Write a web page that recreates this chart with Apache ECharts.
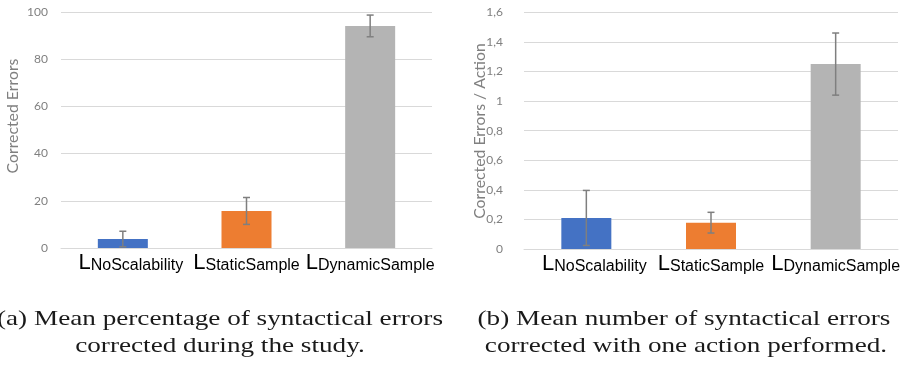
<!DOCTYPE html>
<html>
<head>
<meta charset="utf-8">
<script src="https://cdn.jsdelivr.net/npm/echarts@6/dist/echarts.min.js"></script>
<style>
html,body{margin:0;padding:0;background:#fff;}
#c{width:905px;height:365px;}
</style>
</head>
<body>
<div id="c"></div>
<script>
// ---- data ----
const categories = ['NoScalability', 'StaticSample', 'DynamicSample'];
const pctValues = [3.8, 15.7, 94.1];
const pctErrors = [3.3, 5.7, 4.6];
const perActionValues = [0.21, 0.178, 1.25];
const perActionErrors = [0.186, 0.07, 0.21];
const pctTicks = [0, 20, 40, 60, 80, 100];
const perActionTicks = ['0', '0,2', '0,4', '0,6', '0,8', '1', '1,2', '1,4', '1,6'];
const barColors = ['#4472C4', '#ED7D31', '#B4B4B4'];
const yTitles = ['Corrected Errors', 'Corrected Errors / Action'];
const captionA = ['(a) Mean percentage of syntactical errors', 'corrected during the study.'];
const captionB = ['(b) Mean number of syntactical errors', 'corrected with one action performed.'];

// ---- helpers ----
const chart = echarts.init(document.getElementById('c'), null, {renderer: 'canvas'});

function measure(text, font) {
  const cv = document.createElement('canvas').getContext('2d');
  cv.font = font;
  return cv.measureText(text).width;
}

const labelShift = [8, 0, 0];
function catData() {
  return categories.map((c, i) => ({
    value: c,
    textStyle: {padding: labelShift[i] > 0 ? [0, 0, 0, labelShift[i] * 2] : 0}
  }));
}

function errorSeries(xIdx, vals, errs) {
  return {
    type: 'custom',
    xAxisIndex: xIdx, yAxisIndex: xIdx,
    silent: true, z: 10,
    data: vals.map((v, i) => [i, v - errs[i], v + errs[i]]),
    encode: {x: 0, y: [1, 2]},
    renderItem: function (params, api) {
      const lo = api.coord([api.value(0), api.value(1)]);
      const hi = api.coord([api.value(0), api.value(2)]);
      const hw = 3.5;
      const st = {stroke: '#7f7f7f', lineWidth: 1.5};
      return {
        type: 'group',
        children: [
          {type: 'line', shape: {x1: hi[0], y1: hi[1], x2: lo[0], y2: lo[1]}, style: st},
          {type: 'line', shape: {x1: hi[0] - hw, y1: hi[1], x2: hi[0] + hw, y2: hi[1]}, style: st},
          {type: 'line', shape: {x1: lo[0] - hw, y1: lo[1], x2: lo[0] + hw, y2: lo[1]}, style: st}
        ]
      };
    }
  };
}

const xAxisCommon = {
  type: 'category',
  axisTick: {show: false},
  axisLine: {lineStyle: {color: '#d9d9d9', width: 1}},
  axisLabel: {
    margin: 4,
    interval: 0,
    hideOverlap: false,
    formatter: v => '{L|L}{s|' + v + '}',
    rich: {
      L: {fontFamily: 'Liberation Sans', fontSize: 22, color: '#000', lineHeight: 24, verticalAlign: 'top'},
      s: {fontFamily: 'Liberation Sans', fontSize: 16, color: '#000', lineHeight: 24, verticalAlign: 'top', padding: [6, 0, 0, 0]}
    }
  }
};

const yAxisCommon = {
  type: 'value',
  splitLine: {lineStyle: {color: '#d9d9d9', width: 1}},
  axisLine: {show: false},
  axisTick: {show: false},
  axisLabel: {color: '#808080', fontFamily: 'Lato', fontSize: 12}
};

// captions
const capFont = 'Liberation Serif';
const capSize = 22;
const baseW = measure(captionA[0], capSize + 'px "' + capFont + '"');
const capScale = 446 / baseW;

function capText(text, cx, y) {
  return {
    type: 'text', x: cx, y: y, scaleX: capScale, originX: 0,
    style: {text: text, font: capSize + 'px "' + capFont + '"', fill: '#1a1a1a', align: 'center', verticalAlign: 'middle'}
  };
}

const option = {
  animation: false,
  backgroundColor: '#fff',
  grid: [
    {left: 61, right: 905 - 432, top: 12, bottom: 365 - 248},
    {left: 524, right: 7, top: 12.3, bottom: 365 - 249}
  ],
  xAxis: [
    Object.assign({gridIndex: 0, data: catData()}, xAxisCommon),
    Object.assign({gridIndex: 1, data: catData()}, xAxisCommon)
  ],
  yAxis: [
    Object.assign({}, yAxisCommon, {gridIndex: 0, min: pctTicks[0], max: pctTicks[pctTicks.length - 1], interval: 20,
      axisLabel: Object.assign({}, yAxisCommon.axisLabel, {margin: 13})}),
    Object.assign({}, yAxisCommon, {gridIndex: 1, min: 0, max: 1.6, interval: 0.2,
      axisLabel: Object.assign({}, yAxisCommon.axisLabel, {margin: 21,
        formatter: v => perActionTicks[Math.round(v / 0.2)]})})
  ],
  series: [
    {type: 'bar', xAxisIndex: 0, yAxisIndex: 0, barWidth: 50,
      data: pctValues.map((v, i) => ({value: v, itemStyle: {color: barColors[i]}}))},
    {type: 'bar', xAxisIndex: 1, yAxisIndex: 1, barWidth: 50,
      data: perActionValues.map((v, i) => ({value: v, itemStyle: {color: barColors[i]}}))},
    errorSeries(0, pctValues, pctErrors),
    errorSeries(1, perActionValues, perActionErrors)
  ],
  graphic: [
    {type: 'text', x: 13, y: 116, rotation: Math.PI / 2,
      style: {text: yTitles[0], font: '15.8px Lato', fill: '#808080', align: 'center', verticalAlign: 'middle'}},
    {type: 'text', x: 480, y: 131, rotation: Math.PI / 2,
      style: {text: yTitles[1], font: '15.8px Lato', fill: '#808080', align: 'center', verticalAlign: 'middle'}},
    capText(captionA[0], 220, 319),
    capText(captionA[1], 220, 346),
    capText(captionB[0], 684, 319),
    capText(captionB[1], 686, 346)
  ]
};
chart.setOption(option);
</script>
</body>
</html>
